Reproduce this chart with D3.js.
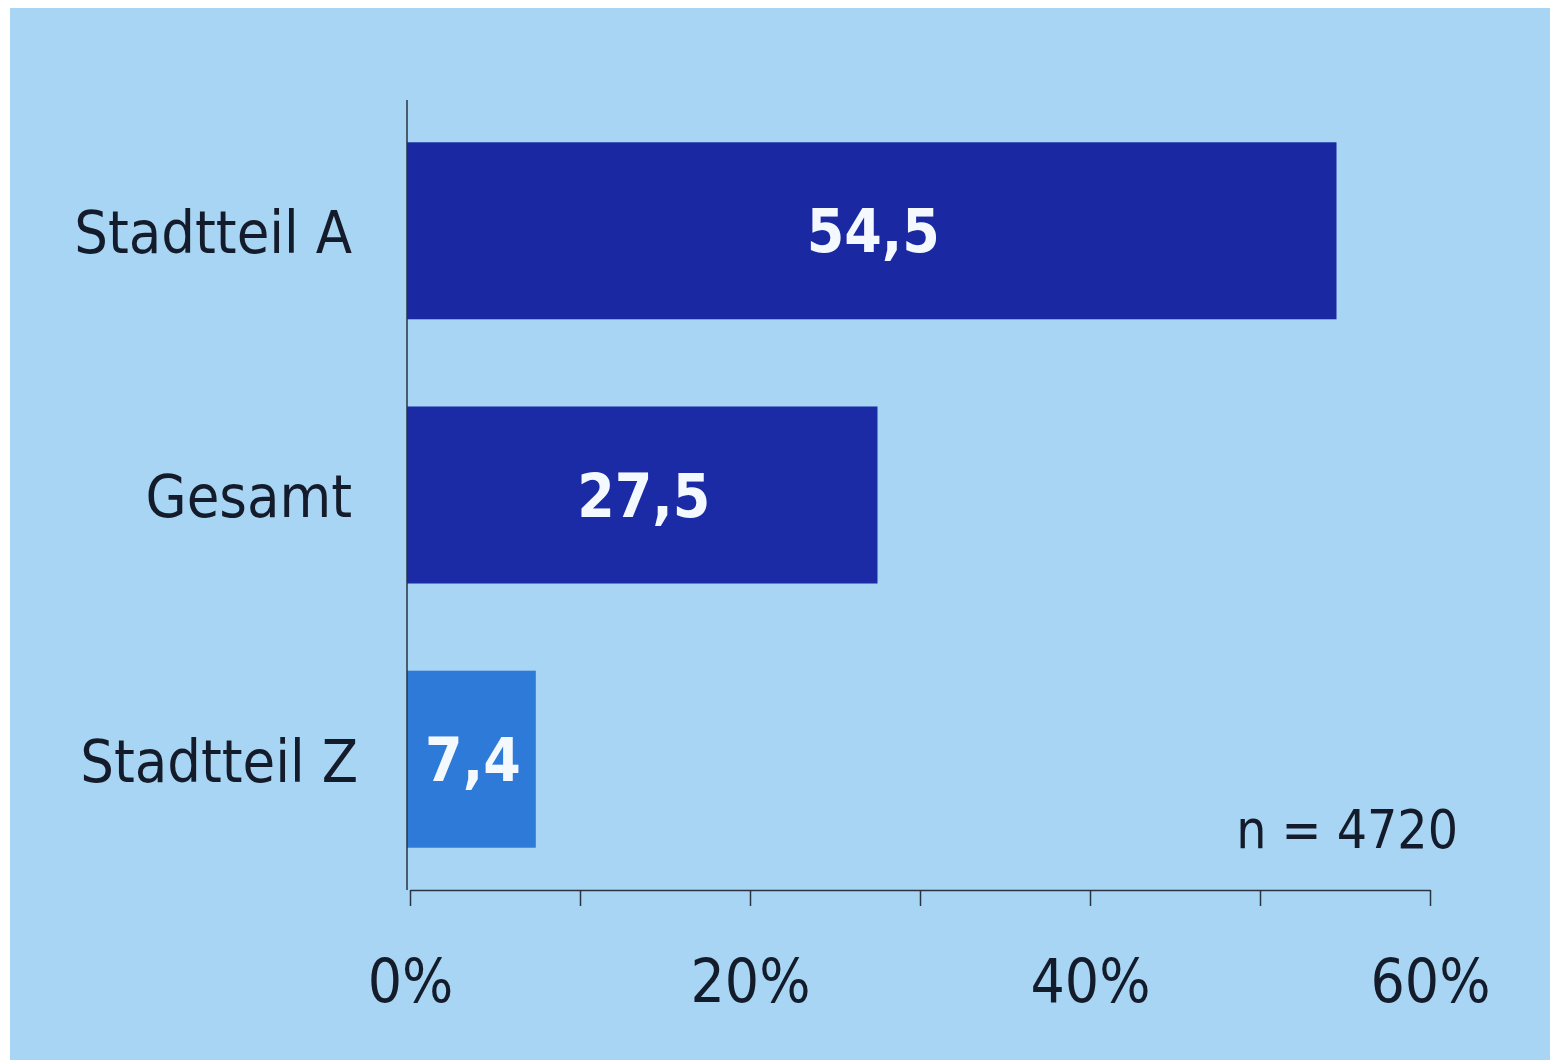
<!DOCTYPE html>
<html>
<head>
    <meta charset="utf-8">
    <script src="https://d3js.org/d3.v7.min.js"></script>
    <style>
        body { margin: 0; background: #fff; }
        .cat { font-family: "DejaVu Sans Condensed", "DejaVu Sans", sans-serif; font-size: 59px; fill: #141c2c; }
        .val { font-family: "DejaVu Sans Condensed", "DejaVu Sans", sans-serif; font-size: 60px; font-weight: bold; fill: #f4f8ff; }
        .tick-lbl { font-family: "DejaVu Sans Condensed", "DejaVu Sans", sans-serif; font-size: 60px; fill: #141c2c; }
    </style>
</head>
<body>
<script>
    var categories = ["Stadtteil A", "Gesamt", "Stadtteil Z"];
    var values = [54.5, 27.5, 7.4];
    var valueLabels = ["54,5", "27,5", "7,4"];
    var tickValues = [0, 10, 20, 30, 40, 50, 60];
    var tickLabels = ["0%", "", "20%", "", "40%", "", "60%"];
    var note = "n = 4720";

    var barColors = ["#1a29a2", "#1b2ba6", "#2e7ad8"];

    var width = 1550, height = 1060;

    var svg = d3.select("body").append("svg")
        .attr("width", width)
        .attr("height", height);

    // paper background
    svg.append("rect")
        .attr("x", 10).attr("y", 8)
        .attr("width", width - 10).attr("height", height - 8)
        .attr("fill", "#a8d5f3");

    var x = d3.scaleLinear()
        .domain([0, 60])
        .range([410, 1430]);

    var y = d3.scaleBand()
        .domain(categories)
        .range([100, 890])
        .paddingInner(0.33)
        .paddingOuter(0.16);

    // bars
    svg.append("g")
        .selectAll("rect")
        .data(values)
        .enter().append("rect")
        .attr("x", x(0) - 3)
        .attr("y", function (d, i) { return y(categories[i]); })
        .attr("width", function (d) { return x(d) - x(0) + 3; })
        .attr("height", y.bandwidth())
        .attr("fill", function (d, i) { return barColors[i]; });

    // value labels inside bars
    svg.append("g")
        .selectAll("text")
        .data(values)
        .enter().append("text")
        .attr("class", "val")
        .attr("x", function (d) { return (x(0) + x(d)) / 2; })
        .attr("y", function (d, i) { return y(categories[i]) + y.bandwidth() / 2; })
        .attr("dy", "0.36em")
        .attr("text-anchor", "middle")
        .text(function (d, i) { return valueLabels[i]; });

    // category labels
    svg.append("g")
        .selectAll("text")
        .data(categories)
        .enter().append("text")
        .attr("class", "cat")
        .attr("x", function (d, i) { return i == 2 ? 358 : 352; })
        .attr("y", function (d) { return y(d) + y.bandwidth() / 2; })
        .attr("dy", "0.38em")
        .attr("text-anchor", "end")
        .text(function (d) { return d; });

    // vertical axis line
    svg.append("line")
        .attr("x1", x(0) - 3).attr("x2", x(0) - 3)
        .attr("y1", 100).attr("y2", 890)
        .attr("stroke", "#2a3340").attr("stroke-width", 1.5);

    // x axis
    var xAxis = svg.append("g")
        .attr("transform", "translate(0,890)")
        .call(d3.axisBottom(x)
            .tickValues(tickValues)
            .tickSize(16)
            .tickSizeOuter(0)
            .tickFormat(function (d, i) { return tickLabels[i]; }));

    xAxis.select(".domain").attr("stroke", "#2a3340").attr("stroke-width", 1.5);
    xAxis.selectAll(".tick line").attr("stroke", "#2a3340").attr("stroke-width", 1.5);
    xAxis.selectAll(".tick text")
        .attr("class", "tick-lbl")
        .attr("y", 90)
        .attr("dy", "0.36em")
        .attr("font-size", null)
        .attr("font-family", null)
        .attr("fill", null);
    xAxis.attr("font-size", null).attr("font-family", null);

    // sample size note
    svg.append("text")
        .attr("class", "tick-lbl")
        .attr("x", 1458)
        .attr("y", 848)
        .attr("text-anchor", "end")
        .style("font-size", "53px")
        .text(note);
</script>
</body>
</html>
